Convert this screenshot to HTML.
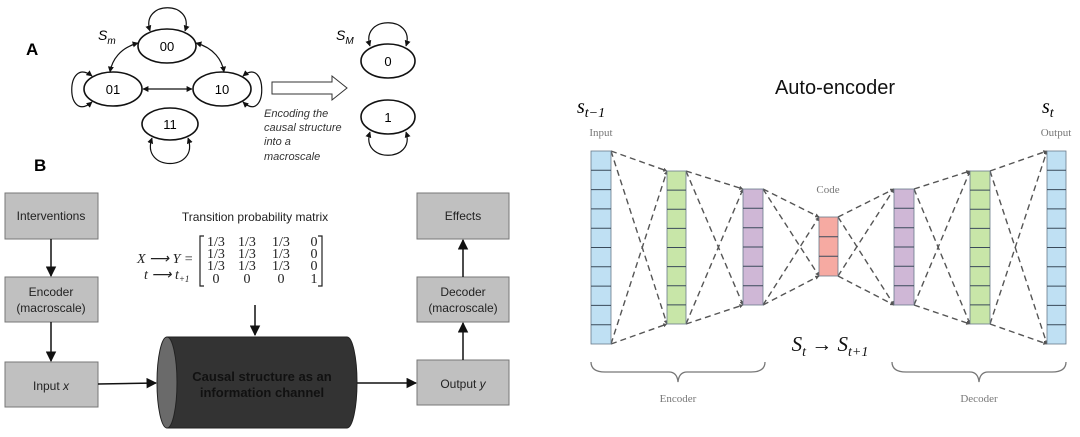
<!DOCTYPE html>
<html><head><meta charset="utf-8"><style>
body{margin:0;background:#fff;}
svg{display:block;}
text{font-family:"Liberation Sans",sans-serif;}
.ser,.ser text{font-family:"Liberation Serif",serif;}
</style></head><body>
<svg width="1080" height="437" viewBox="0 0 1080 437" xmlns="http://www.w3.org/2000/svg">
<defs>
<marker id="a" viewBox="0 0 10 10" refX="9" refY="5" markerWidth="5" markerHeight="5" orient="auto-start-reverse"><path d="M0,0L10,5L0,10z" fill="#111"/></marker>
<marker id="b" viewBox="0 0 10 10" refX="9" refY="5" markerWidth="7" markerHeight="7" orient="auto"><path d="M0,0L10,5L0,10z" fill="#111"/></marker>
<marker id="s" viewBox="0 0 10 10" refX="9" refY="5" markerWidth="3" markerHeight="3" orient="auto"><path d="M0,0L10,5L0,10z" fill="#555"/></marker>
</defs>
<!-- Panel A -->
<text x="26" y="55" font-size="17" font-weight="bold">A</text>
<text x="98" y="40" font-size="14" font-style="italic">S<tspan font-size="10" dy="4">m</tspan></text>
<g fill="none" stroke="#111" stroke-width="1.6">
<ellipse cx="167" cy="46" rx="29" ry="17"/>
<ellipse cx="113" cy="89" rx="29" ry="17"/>
<ellipse cx="222" cy="89" rx="29" ry="17"/>
<ellipse cx="170" cy="124" rx="28" ry="16"/>
</g>
<g fill="none" stroke="#111" stroke-width="1.2">
<path d="M150,31 C140,0 195,0 185,31" marker-start="url(#a)" marker-end="url(#a)"/>
<path d="M92,76 C65,55 65,125 92,102" marker-start="url(#a)" marker-end="url(#a)"/>
<path d="M243,76 C268,55 268,125 243,102" marker-start="url(#a)" marker-end="url(#a)"/>
<path d="M152,138 C140,172 200,172 188,138" marker-start="url(#a)" marker-end="url(#a)"/>
<path d="M138,43 C120,48 112,60 110,72" marker-start="url(#a)" marker-end="url(#a)"/>
<path d="M196,43 C214,48 222,60 224,72" marker-start="url(#a)" marker-end="url(#a)"/>
<line x1="143" y1="89" x2="192" y2="89" marker-start="url(#a)" marker-end="url(#a)"/>
</g>
<text x="167" y="51" font-size="13" text-anchor="middle">00</text>
<text x="113" y="94" font-size="13" text-anchor="middle">01</text>
<text x="222" y="94" font-size="13" text-anchor="middle">10</text>
<text x="170" y="129" font-size="13" text-anchor="middle">11</text>
<path d="M272,82 L332,82 L332,76 L347,88 L332,100 L332,94 L272,94 Z" fill="#fff" stroke="#333" stroke-width="1"/>
<g font-size="11" font-style="italic" fill="#333">
<text x="264" y="117">Encoding the</text>
<text x="264" y="131">causal structure</text>
<text x="264" y="145">into a</text>
<text x="264" y="160">macroscale</text>
</g>
<text x="336" y="40" font-size="14" font-style="italic">S<tspan font-size="10" dy="4">M</tspan></text>
<g fill="none" stroke="#111" stroke-width="1.6">
<ellipse cx="388" cy="61" rx="27" ry="17"/>
<ellipse cx="388" cy="117" rx="27" ry="17"/>
</g>
<g fill="none" stroke="#111" stroke-width="1.2">
<path d="M370,46 C360,15 416,15 406,46" marker-start="url(#a)" marker-end="url(#a)"/>
<path d="M370,132 C360,163 416,163 406,132" marker-start="url(#a)" marker-end="url(#a)"/>
</g>
<text x="388" y="66" font-size="13" text-anchor="middle">0</text>
<text x="388" y="122" font-size="13" text-anchor="middle">1</text>
<text x="34" y="171" font-size="17" font-weight="bold">B</text>
<!-- Panel B boxes -->
<g fill="#c0c0c0" stroke="#777" stroke-width="1">
<rect x="5" y="193" width="93" height="46"/>
<rect x="5" y="277" width="93" height="45"/>
<rect x="5" y="362" width="93" height="45"/>
<rect x="417" y="193" width="92" height="46"/>
<rect x="417" y="277" width="92" height="45"/>
<rect x="417" y="360" width="92" height="45"/>
</g>
<g font-size="12" text-anchor="middle" fill="#222">
<text x="51" y="220">Interventions</text>
<text x="51" y="296">Encoder</text><text x="51" y="312">(macroscale)</text>
<text x="51" y="390">Input <tspan font-style="italic">x</tspan></text>
<text x="463" y="220">Effects</text>
<text x="463" y="296">Decoder</text><text x="463" y="312">(macroscale)</text>
<text x="463" y="388">Output <tspan font-style="italic">y</tspan></text>
</g>
<g stroke="#111" stroke-width="1.5" fill="none">
<line x1="51" y1="239" x2="51" y2="276" marker-end="url(#b)"/>
<line x1="51" y1="322" x2="51" y2="361" marker-end="url(#b)"/>
<line x1="463" y1="360" x2="463" y2="323" marker-end="url(#b)"/>
<line x1="463" y1="277" x2="463" y2="240" marker-end="url(#b)"/>
<line x1="98" y1="384" x2="156" y2="383" marker-end="url(#b)"/>
<line x1="357" y1="383" x2="416" y2="383" marker-end="url(#b)"/>
<line x1="255" y1="305" x2="255" y2="335" marker-end="url(#b)"/>
</g>
<!-- cylinder -->
<path d="M167,337 L347,337 A10,45.5 0 0 1 347,428 L167,428 Z" fill="#333" stroke="#222"/>
<ellipse cx="167" cy="382.5" rx="10" ry="45.5" fill="#6a6a6a" stroke="#222"/>
<text x="262" y="381" font-size="13" font-weight="bold" text-anchor="middle" fill="#111">Causal structure as an</text>
<text x="262" y="397" font-size="13" font-weight="bold" text-anchor="middle" fill="#111">information channel</text>
<!-- matrix -->
<text x="255" y="221" font-size="12" text-anchor="middle" fill="#222">Transition probability matrix</text>
<g class="ser" font-size="14" fill="#222">
<text x="137" y="263" font-style="italic">X ⟶ Y =</text>
<text x="144" y="279" font-style="italic">t ⟶ t<tspan font-size="9" dy="3">+1</tspan></text>
<g text-anchor="middle">
<text x="216" y="246">1/3</text><text x="247" y="246">1/3</text><text x="281" y="246">1/3</text><text x="314" y="246">0</text>
<text x="216" y="258">1/3</text><text x="247" y="258">1/3</text><text x="281" y="258">1/3</text><text x="314" y="258">0</text>
<text x="216" y="270">1/3</text><text x="247" y="270">1/3</text><text x="281" y="270">1/3</text><text x="314" y="270">0</text>
<text x="216" y="283">0</text><text x="247" y="283">0</text><text x="281" y="283">0</text><text x="314" y="283">1</text>
</g>
</g>
<path d="M204,236 L200,236 L200,286 L204,286 M318,236 L322,236 L322,286 L318,286" fill="none" stroke="#222" stroke-width="1.2"/>
<!-- Auto-encoder -->
<text x="835" y="94" font-size="20" text-anchor="middle" fill="#111">Auto-encoder</text>
<text x="577" y="113" class="ser" font-size="20" font-style="italic">s<tspan font-size="14" dy="4">t−1</tspan></text>
<text x="1042" y="113" class="ser" font-size="20" font-style="italic">s<tspan font-size="14" dy="4">t</tspan></text>
<g class="ser" font-size="11" fill="#777" text-anchor="middle">
<text x="601" y="136">Input</text>
<text x="1056" y="136">Output</text>
<text x="828" y="193">Code</text>
<text x="678" y="402">Encoder</text>
<text x="979" y="402">Decoder</text>
</g>
<g stroke="#555" stroke-width="1.4" stroke-dasharray="6,4" fill="none" marker-end="url(#s)">
<line x1="611" y1="151" x2="667" y2="171"/><line x1="611" y1="344" x2="667" y2="324"/>
<line x1="611" y1="151" x2="667" y2="324"/><line x1="611" y1="344" x2="667" y2="171"/>
<line x1="686" y1="171" x2="743" y2="189"/><line x1="686" y1="324" x2="743" y2="305"/>
<line x1="686" y1="171" x2="743" y2="305"/><line x1="686" y1="324" x2="743" y2="189"/>
<line x1="763" y1="189" x2="819" y2="217"/><line x1="763" y1="305" x2="819" y2="276"/>
<line x1="763" y1="189" x2="819" y2="276"/><line x1="763" y1="305" x2="819" y2="217"/>
<line x1="838" y1="217" x2="894" y2="189"/><line x1="838" y1="276" x2="894" y2="305"/>
<line x1="838" y1="217" x2="894" y2="305"/><line x1="838" y1="276" x2="894" y2="189"/>
<line x1="914" y1="189" x2="970" y2="171"/><line x1="914" y1="305" x2="970" y2="324"/>
<line x1="914" y1="189" x2="970" y2="324"/><line x1="914" y1="305" x2="970" y2="171"/>
<line x1="990" y1="171" x2="1047" y2="151"/><line x1="990" y1="324" x2="1047" y2="344"/>
<line x1="990" y1="171" x2="1047" y2="344"/><line x1="990" y1="324" x2="1047" y2="151"/>
</g>
<g stroke="#6a7a8a" stroke-width="0.8">
<rect x="591" y="151" width="20" height="193" fill="#bfe0f3"/>
<rect x="1047" y="151" width="19" height="193" fill="#bfe0f3"/>
<rect x="667" y="171" width="19" height="153" fill="#c8e6a8"/>
<rect x="970" y="171" width="20" height="153" fill="#c8e6a8"/>
<rect x="743" y="189" width="20" height="116" fill="#cfb7d6"/>
<rect x="894" y="189" width="20" height="116" fill="#cfb7d6"/>
<rect x="819" y="217" width="19" height="59" fill="#f6aaa2"/>
</g>
<g stroke="#3a4a5a" stroke-width="1">
<path d="M591,170.3h20M591,189.6h20M591,208.9h20M591,228.2h20M591,247.5h20M591,266.8h20M591,286.1h20M591,305.4h20M591,324.7h20"/>
<path d="M1047,170.3h19M1047,189.6h19M1047,208.9h19M1047,228.2h19M1047,247.5h19M1047,266.8h19M1047,286.1h19M1047,305.4h19M1047,324.7h19"/>
<path d="M667,190.1h19M667,209.2h19M667,228.4h19M667,247.5h19M667,266.6h19M667,285.8h19M667,304.9h19"/>
<path d="M970,190.1h20M970,209.2h20M970,228.4h20M970,247.5h20M970,266.6h20M970,285.8h20M970,304.9h20"/>
<path d="M743,208.3h20M743,227.7h20M743,247h20M743,266.3h20M743,285.7h20"/>
<path d="M894,208.3h20M894,227.7h20M894,247h20M894,266.3h20M894,285.7h20"/>
<path d="M819,236.7h19M819,256.3h19"/>
</g>
<text x="830" y="351" class="ser" font-size="21" font-style="italic" text-anchor="middle" fill="#111">S<tspan font-size="14" dy="5">t</tspan><tspan dy="-5" font-style="normal"> → </tspan>S<tspan font-size="14" dy="5">t+1</tspan></text>
<g fill="none" stroke="#777" stroke-width="1.3">
<path d="M591,362 Q591,372 605,372 L669,372 Q677,372 678,382 Q679,372 687,372 L751,372 Q765,372 765,362"/>
<path d="M892,362 Q892,372 906,372 L970,372 Q978,372 979,382 Q980,372 988,372 L1052,372 Q1066,372 1066,362"/>
</g>
</svg>
</body></html>
